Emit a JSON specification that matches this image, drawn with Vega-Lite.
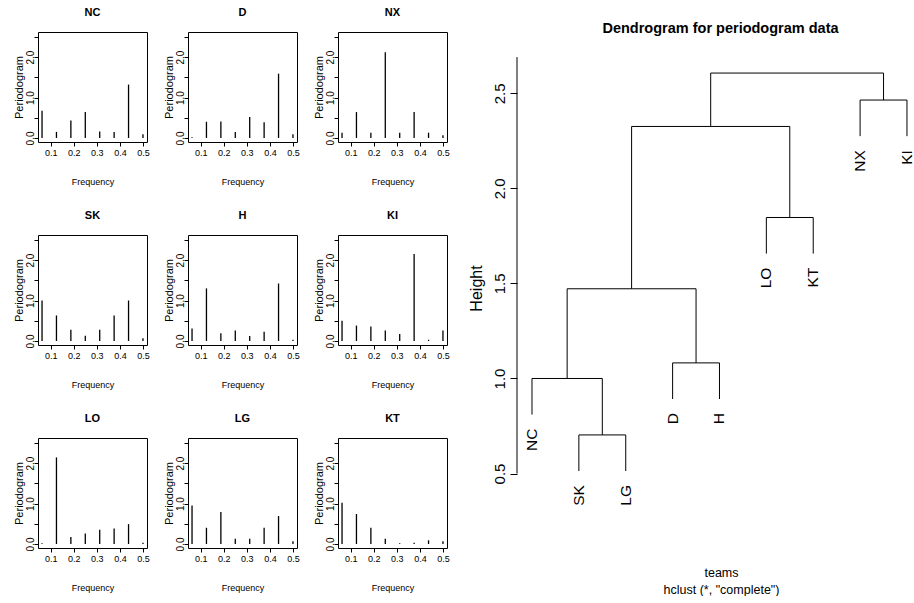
{
  "$schema": "https://vega.github.io/schema/vega-lite/v6.json",
  "padding": {"left": 12, "top": 6, "right": 0, "bottom": 0},
  "background": "white",
  "datasets": {
    "per": [
      {"team":"NC","f":0.0625,"p":0.67},{"team":"NC","f":0.125,"p":0.15},{"team":"NC","f":0.1875,"p":0.43},{"team":"NC","f":0.25,"p":0.64},{"team":"NC","f":0.3125,"p":0.16},{"team":"NC","f":0.375,"p":0.15},{"team":"NC","f":0.4375,"p":1.32},{"team":"NC","f":0.5,"p":0.09},
      {"team":"D","f":0.0625,"p":0.02},{"team":"D","f":0.125,"p":0.40},{"team":"D","f":0.1875,"p":0.41},{"team":"D","f":0.25,"p":0.15},{"team":"D","f":0.3125,"p":0.52},{"team":"D","f":0.375,"p":0.39},{"team":"D","f":0.4375,"p":1.59},{"team":"D","f":0.5,"p":0.09},
      {"team":"NX","f":0.0625,"p":0.13},{"team":"NX","f":0.125,"p":0.64},{"team":"NX","f":0.1875,"p":0.13},{"team":"NX","f":0.25,"p":2.12},{"team":"NX","f":0.3125,"p":0.13},{"team":"NX","f":0.375,"p":0.64},{"team":"NX","f":0.4375,"p":0.13},{"team":"NX","f":0.5,"p":0.07},
      {"team":"SK","f":0.0625,"p":1.00},{"team":"SK","f":0.125,"p":0.63},{"team":"SK","f":0.1875,"p":0.28},{"team":"SK","f":0.25,"p":0.13},{"team":"SK","f":0.3125,"p":0.28},{"team":"SK","f":0.375,"p":0.63},{"team":"SK","f":0.4375,"p":1.00},{"team":"SK","f":0.5,"p":0.07},
      {"team":"H","f":0.0625,"p":0.31},{"team":"H","f":0.125,"p":1.30},{"team":"H","f":0.1875,"p":0.19},{"team":"H","f":0.25,"p":0.26},{"team":"H","f":0.3125,"p":0.12},{"team":"H","f":0.375,"p":0.23},{"team":"H","f":0.4375,"p":1.42},{"team":"H","f":0.5,"p":0.03},
      {"team":"KI","f":0.0625,"p":0.50},{"team":"KI","f":0.125,"p":0.38},{"team":"KI","f":0.1875,"p":0.36},{"team":"KI","f":0.25,"p":0.26},{"team":"KI","f":0.3125,"p":0.17},{"team":"KI","f":0.375,"p":2.15},{"team":"KI","f":0.4375,"p":0.03},{"team":"KI","f":0.5,"p":0.26},
      {"team":"LO","f":0.0625,"p":0.02},{"team":"LO","f":0.125,"p":2.14},{"team":"LO","f":0.1875,"p":0.17},{"team":"LO","f":0.25,"p":0.26},{"team":"LO","f":0.3125,"p":0.35},{"team":"LO","f":0.375,"p":0.38},{"team":"LO","f":0.4375,"p":0.49},{"team":"LO","f":0.5,"p":0.03},
      {"team":"LG","f":0.0625,"p":0.95},{"team":"LG","f":0.125,"p":0.40},{"team":"LG","f":0.1875,"p":0.79},{"team":"LG","f":0.25,"p":0.13},{"team":"LG","f":0.3125,"p":0.13},{"team":"LG","f":0.375,"p":0.40},{"team":"LG","f":0.4375,"p":0.69},{"team":"LG","f":0.5,"p":0.07},
      {"team":"KT","f":0.0625,"p":1.02},{"team":"KT","f":0.125,"p":0.74},{"team":"KT","f":0.1875,"p":0.40},{"team":"KT","f":0.25,"p":0.13},{"team":"KT","f":0.3125,"p":0.02},{"team":"KT","f":0.375,"p":0.03},{"team":"KT","f":0.4375,"p":0.09},{"team":"KT","f":0.5,"p":0.07}
    ],
    "seg": [
      {"x":2,"x2":3,"y":0.703,"y2":0.703},
      {"x":1,"x2":2.5,"y":1.0,"y2":1.0},
      {"x":4,"x2":5,"y":1.082,"y2":1.082},
      {"x":1.75,"x2":4.5,"y":1.472,"y2":1.472},
      {"x":6,"x2":7,"y":1.847,"y2":1.847},
      {"x":3.125,"x2":6.5,"y":2.326,"y2":2.326},
      {"x":8,"x2":9,"y":2.465,"y2":2.465},
      {"x":4.8125,"x2":8.5,"y":2.607,"y2":2.607},
      {"x":2,"x2":2,"y":0.513,"y2":0.703},
      {"x":3,"x2":3,"y":0.513,"y2":0.703},
      {"x":1,"x2":1,"y":0.81,"y2":1.0},
      {"x":2.5,"x2":2.5,"y":0.703,"y2":1.0},
      {"x":4,"x2":4,"y":0.892,"y2":1.082},
      {"x":5,"x2":5,"y":0.892,"y2":1.082},
      {"x":1.75,"x2":1.75,"y":1.0,"y2":1.472},
      {"x":4.5,"x2":4.5,"y":1.082,"y2":1.472},
      {"x":6,"x2":6,"y":1.657,"y2":1.847},
      {"x":7,"x2":7,"y":1.657,"y2":1.847},
      {"x":3.125,"x2":3.125,"y":1.472,"y2":2.326},
      {"x":6.5,"x2":6.5,"y":1.847,"y2":2.326},
      {"x":8,"x2":8,"y":2.275,"y2":2.465},
      {"x":9,"x2":9,"y":2.275,"y2":2.465},
      {"x":4.8125,"x2":4.8125,"y":2.326,"y2":2.607},
      {"x":8.5,"x2":8.5,"y":2.465,"y2":2.607}
    ],
    "leaf": [
      {"name":"NC","pos":1,"h":0.81},
      {"name":"SK","pos":2,"h":0.513},
      {"name":"LG","pos":3,"h":0.513},
      {"name":"D","pos":4,"h":0.892},
      {"name":"H","pos":5,"h":0.892},
      {"name":"LO","pos":6,"h":1.657},
      {"name":"KT","pos":7,"h":1.657},
      {"name":"NX","pos":8,"h":2.275},
      {"name":"KI","pos":9,"h":2.275}
    ]
  },
  "config": {
    "view": {"stroke": "black", "strokeWidth": 1},
    "font": "Liberation Sans",
    "axis": {"grid": false, "domain": false, "tickColor": "black", "labelColor": "black", "titleColor": "black", "titleFontWeight": "normal", "tickSize": 4, "labelOverlap": false, "labelFlush": false},
    "axisX": {"labelFontSize": 9, "labelPadding": 2, "titleFontSize": 9, "titlePadding": 20, "format": ".1f"},
    "axisY": {"labelAngle": 270, "labelAlign": "center", "labelBaseline": "bottom", "labelFontSize": 10, "labelPadding": -1, "titleFontSize": 11, "titlePadding": 1, "labelExpr": "datum.value % 1 === 0 ? format(datum.value, '.1f') : ''"},
    "title": {"fontSize": 11, "fontWeight": "bold", "color": "black", "offset": 14, "anchor": "middle"}
  },
  "hconcat": [
    {
      "spacing": 22,
      "vconcat": [
        {"spacing": 12, "hconcat": [
          {"title": "NC", "width": 109, "height": 110, "data": {"name": "per"}, "transform": [{"filter": "datum.team === 'NC'"}], "mark": {"type": "rule", "color": "black", "strokeWidth": 1.3}, "encoding": {"x": {"field": "f", "type": "quantitative", "title": "Frequency", "scale": {"domain": [0.045, 0.5175], "nice": false, "zero": false}, "axis": {"values": [0.1, 0.2, 0.3, 0.4, 0.5]}}, "y": {"field": "p", "type": "quantitative", "title": "Periodogram", "scale": {"domain": [-0.1, 2.62], "nice": false, "zero": false}, "axis": {"values": [0, 0.5, 1, 1.5, 2, 2.5]}}, "y2": {"datum": 0}}},
          {"title": "D", "width": 109, "height": 110, "data": {"name": "per"}, "transform": [{"filter": "datum.team === 'D'"}], "mark": {"type": "rule", "color": "black", "strokeWidth": 1.3}, "encoding": {"x": {"field": "f", "type": "quantitative", "title": "Frequency", "scale": {"domain": [0.045, 0.5175], "nice": false, "zero": false}, "axis": {"values": [0.1, 0.2, 0.3, 0.4, 0.5]}}, "y": {"field": "p", "type": "quantitative", "title": "Periodogram", "scale": {"domain": [-0.1, 2.62], "nice": false, "zero": false}, "axis": {"values": [0, 0.5, 1, 1.5, 2, 2.5]}}, "y2": {"datum": 0}}},
          {"title": "NX", "width": 109, "height": 110, "data": {"name": "per"}, "transform": [{"filter": "datum.team === 'NX'"}], "mark": {"type": "rule", "color": "black", "strokeWidth": 1.3}, "encoding": {"x": {"field": "f", "type": "quantitative", "title": "Frequency", "scale": {"domain": [0.045, 0.5175], "nice": false, "zero": false}, "axis": {"values": [0.1, 0.2, 0.3, 0.4, 0.5]}}, "y": {"field": "p", "type": "quantitative", "title": "Periodogram", "scale": {"domain": [-0.1, 2.62], "nice": false, "zero": false}, "axis": {"values": [0, 0.5, 1, 1.5, 2, 2.5]}}, "y2": {"datum": 0}}}
        ]},
        {"spacing": 12, "hconcat": [
          {"title": "SK", "width": 109, "height": 110, "data": {"name": "per"}, "transform": [{"filter": "datum.team === 'SK'"}], "mark": {"type": "rule", "color": "black", "strokeWidth": 1.3}, "encoding": {"x": {"field": "f", "type": "quantitative", "title": "Frequency", "scale": {"domain": [0.045, 0.5175], "nice": false, "zero": false}, "axis": {"values": [0.1, 0.2, 0.3, 0.4, 0.5]}}, "y": {"field": "p", "type": "quantitative", "title": "Periodogram", "scale": {"domain": [-0.1, 2.62], "nice": false, "zero": false}, "axis": {"values": [0, 0.5, 1, 1.5, 2, 2.5]}}, "y2": {"datum": 0}}},
          {"title": "H", "width": 109, "height": 110, "data": {"name": "per"}, "transform": [{"filter": "datum.team === 'H'"}], "mark": {"type": "rule", "color": "black", "strokeWidth": 1.3}, "encoding": {"x": {"field": "f", "type": "quantitative", "title": "Frequency", "scale": {"domain": [0.045, 0.5175], "nice": false, "zero": false}, "axis": {"values": [0.1, 0.2, 0.3, 0.4, 0.5]}}, "y": {"field": "p", "type": "quantitative", "title": "Periodogram", "scale": {"domain": [-0.1, 2.62], "nice": false, "zero": false}, "axis": {"values": [0, 0.5, 1, 1.5, 2, 2.5]}}, "y2": {"datum": 0}}},
          {"title": "KI", "width": 109, "height": 110, "data": {"name": "per"}, "transform": [{"filter": "datum.team === 'KI'"}], "mark": {"type": "rule", "color": "black", "strokeWidth": 1.3}, "encoding": {"x": {"field": "f", "type": "quantitative", "title": "Frequency", "scale": {"domain": [0.045, 0.5175], "nice": false, "zero": false}, "axis": {"values": [0.1, 0.2, 0.3, 0.4, 0.5]}}, "y": {"field": "p", "type": "quantitative", "title": "Periodogram", "scale": {"domain": [-0.1, 2.62], "nice": false, "zero": false}, "axis": {"values": [0, 0.5, 1, 1.5, 2, 2.5]}}, "y2": {"datum": 0}}}
        ]},
        {"spacing": 12, "hconcat": [
          {"title": "LO", "width": 109, "height": 110, "data": {"name": "per"}, "transform": [{"filter": "datum.team === 'LO'"}], "mark": {"type": "rule", "color": "black", "strokeWidth": 1.3}, "encoding": {"x": {"field": "f", "type": "quantitative", "title": "Frequency", "scale": {"domain": [0.045, 0.5175], "nice": false, "zero": false}, "axis": {"values": [0.1, 0.2, 0.3, 0.4, 0.5]}}, "y": {"field": "p", "type": "quantitative", "title": "Periodogram", "scale": {"domain": [-0.1, 2.62], "nice": false, "zero": false}, "axis": {"values": [0, 0.5, 1, 1.5, 2, 2.5]}}, "y2": {"datum": 0}}},
          {"title": "LG", "width": 109, "height": 110, "data": {"name": "per"}, "transform": [{"filter": "datum.team === 'LG'"}], "mark": {"type": "rule", "color": "black", "strokeWidth": 1.3}, "encoding": {"x": {"field": "f", "type": "quantitative", "title": "Frequency", "scale": {"domain": [0.045, 0.5175], "nice": false, "zero": false}, "axis": {"values": [0.1, 0.2, 0.3, 0.4, 0.5]}}, "y": {"field": "p", "type": "quantitative", "title": "Periodogram", "scale": {"domain": [-0.1, 2.62], "nice": false, "zero": false}, "axis": {"values": [0, 0.5, 1, 1.5, 2, 2.5]}}, "y2": {"datum": 0}}},
          {"title": "KT", "width": 109, "height": 110, "data": {"name": "per"}, "transform": [{"filter": "datum.team === 'KT'"}], "mark": {"type": "rule", "color": "black", "strokeWidth": 1.3}, "encoding": {"x": {"field": "f", "type": "quantitative", "title": "Frequency", "scale": {"domain": [0.045, 0.5175], "nice": false, "zero": false}, "axis": {"values": [0.1, 0.2, 0.3, 0.4, 0.5]}}, "y": {"field": "p", "type": "quantitative", "title": "Periodogram", "scale": {"domain": [-0.1, 2.62], "nice": false, "zero": false}, "axis": {"values": [0, 0.5, 1, 1.5, 2, 2.5]}}, "y2": {"datum": 0}}}
        ]}
      ]
    },
    {
      "width": 397,
      "height": 455,
      "view": {"stroke": null},
      "title": {"text": "Dendrogram for periodogram data", "fontSize": 14.5, "offset": -4.5, "frame": "group", "dx": 5},
      "layer": [
        {
          "data": {"name": "seg"},
          "mark": {"type": "rule", "color": "black", "strokeWidth": 1},
          "encoding": {
            "x": {"field": "x", "type": "quantitative", "title": ["teams", "hclust (*, \"complete\")"], "scale": {"domain": [0.68, 9.15], "nice": false, "zero": false}, "axis": {"labels": false, "ticks": false, "domain": false, "titleFontSize": 12.5, "titleLineHeight": 17, "titlePadding": 79, "titleX": 204}},
            "x2": {"field": "x2"},
            "y": {"field": "y", "type": "quantitative", "title": "Height", "scale": {"domain": [0.429, 2.823], "nice": false, "zero": false}, "axis": {"values": [0.5, 1, 1.5, 2, 2.5], "labelExpr": "format(datum.value, '.1f')", "tickSize": 7, "labelFontSize": 15, "labelPadding": 3, "titleFontSize": 16, "titlePadding": 8, "titleY": 256}},
            "y2": {"field": "y2"}
          }
        },
        {
          "data": {"values": [{}]},
          "mark": {"type": "rule", "color": "black", "strokeWidth": 1},
          "encoding": {
            "x": {"datum": 0.68, "type": "quantitative", "title": ["teams", "hclust (*, \"complete\")"]},
            "y": {"datum": 0.5, "type": "quantitative", "title": "Height"},
            "y2": {"datum": 2.691}
          }
        },
        {
          "data": {"name": "leaf"},
          "mark": {"type": "text", "angle": 270, "align": "right", "baseline": "middle", "dx": -14, "fontSize": 15.5, "color": "black"},
          "encoding": {
            "x": {"field": "pos", "type": "quantitative", "title": ["teams", "hclust (*, \"complete\")"]},
            "y": {"field": "h", "type": "quantitative", "title": "Height"},
            "text": {"field": "name"}
          }
        }
      ]
    }
  ],
  "spacing": 18,
  "align": "none"
}
